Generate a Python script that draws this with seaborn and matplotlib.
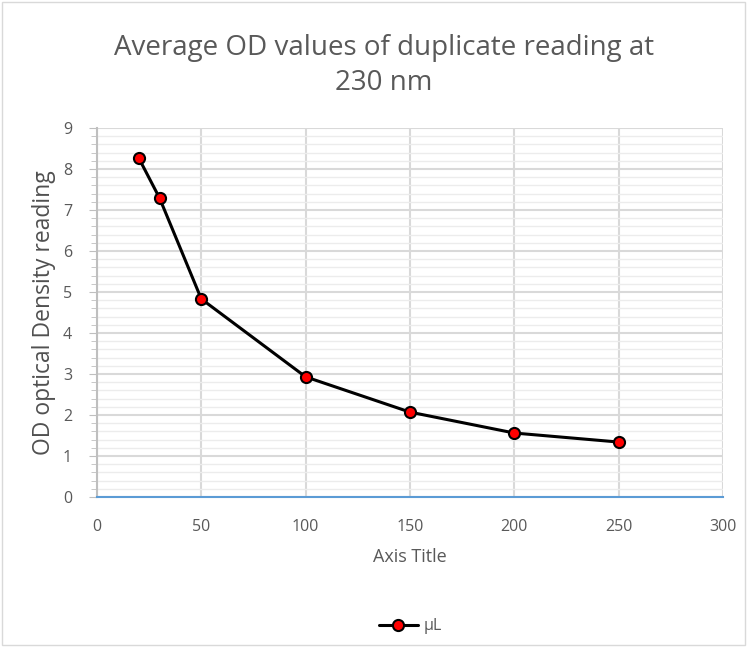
import pandas as pd
import seaborn as sns
import matplotlib.pyplot as plt
from matplotlib.ticker import MultipleLocator
from matplotlib.patches import Rectangle

volume = [20, 30, 50, 100, 150, 200, 250]
od_avg = [8.27, 7.29, 4.83, 2.93, 2.07, 1.56, 1.34]

df = pd.DataFrame({'volume': volume, 'od': od_avg})

sns.set_style('white')
plt.rcParams['font.family'] = ['Open Sans', 'DejaVu Sans']

fig = plt.figure(figsize=(7.54, 6.5), dpi=100)
ax = fig.add_axes([0.1286, 0.2354, 0.8303, 0.5677])

sns.lineplot(data=df, x='volume', y='od', ax=ax, color='black', linewidth=2.2,
             marker='o', markersize=8, markerfacecolor='#ff0000',
             markeredgecolor='black', markeredgewidth=1.5, label='\u00b5L',
             zorder=5)

ax.set_xlim(0, 300)
ax.set_ylim(0, 9)
ax.xaxis.set_major_locator(MultipleLocator(50))
ax.yaxis.set_major_locator(MultipleLocator(1))
ax.yaxis.set_minor_locator(MultipleLocator(0.2))

ax.grid(which='major', color='#d9d9d9', linewidth=1.5)
ax.grid(which='minor', axis='y', color='#ececec', linewidth=1)
ax.set_axisbelow(True)

for s in ['top', 'right']:
    ax.spines[s].set_visible(False)
ax.spines['left'].set_color('#bfbfbf')
ax.spines['left'].set_linewidth(1.5)
ax.spines['bottom'].set_color('#5b9bd5')
ax.spines['bottom'].set_linewidth(1.5)

ax.tick_params(axis='y', which='major', left=True, length=6, color='#bfbfbf',
               labelsize=11.5, labelcolor='#595959', pad=12)
ax.tick_params(axis='y', which='minor', left=True, length=4, color='#bfbfbf')
ax.tick_params(axis='x', which='both', bottom=False, labelsize=11.5,
               labelcolor='#595959', pad=12)

ax.set_xlabel('Axis Title', fontsize=13, color='#595959', labelpad=10)
ax.set_ylabel('OD optical Density reading', fontsize=16.5, color='#505050',
              labelpad=5)
ax.set_title('Average OD values of duplicate reading at\n230 nm', fontsize=20,
             color='#595959', pad=27, linespacing=1.35, x=0.458)

leg = ax.legend(loc='upper center', bbox_to_anchor=(0.5, -0.29), frameon=False,
                fontsize=11.5, handlelength=2.5, handletextpad=0.3)
for t in leg.get_texts():
    t.set_color('#595959')

fig.patches.append(Rectangle((0.003, 0.007), 0.985, 0.99, transform=fig.transFigure,
                             fill=False, edgecolor='#d9d9d9', linewidth=1))

plt.savefig('out.png', dpi=100)
